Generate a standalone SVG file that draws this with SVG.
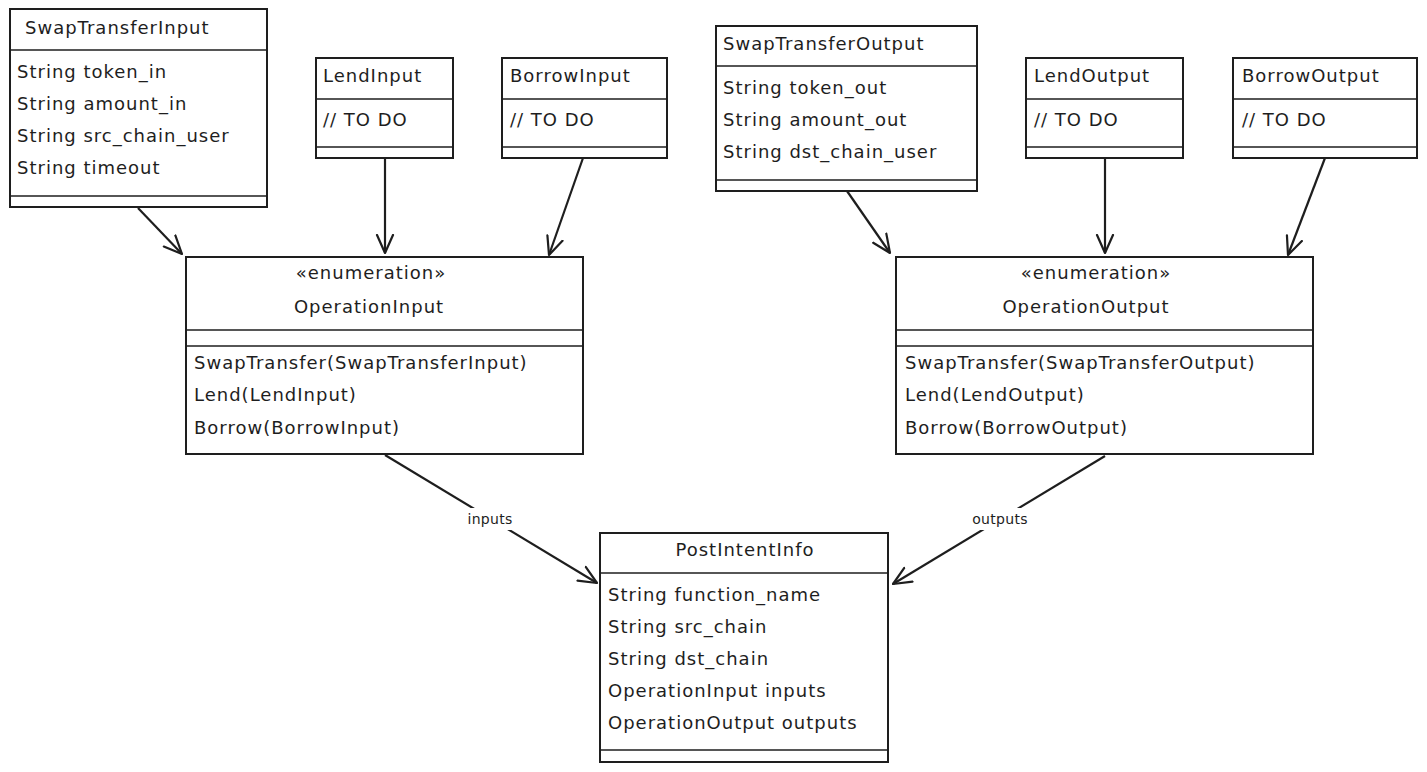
<svg xmlns="http://www.w3.org/2000/svg" width="1427" height="772" viewBox="0 0 1427 772">
<style>
.box{fill:#ffffff;stroke:#1e1e1e;stroke-width:2}
.sep{stroke:#1e1e1e;stroke-width:1.5;fill:none}
.t{font-family:"DejaVu Sans",sans-serif;font-size:18px;letter-spacing:1px;fill:#1e1e1e}
.c{text-anchor:middle}
.lbl{font-family:"DejaVu Sans",sans-serif;font-size:14px;letter-spacing:0.3px;fill:#1e1e1e;text-anchor:middle}
.edge{stroke:#1e1e1e;stroke-width:2.2;fill:none;marker-end:url(#arr)}
</style>
<defs>
<marker id="arr" viewBox="0 0 20 20" refX="19" refY="10" markerWidth="20" markerHeight="20" markerUnits="userSpaceOnUse" orient="auto">
<path d="M1,2 L19,10 L1,18" fill="none" stroke="#1e1e1e" stroke-width="2.2" stroke-linecap="round" stroke-linejoin="round"/>
</marker>
</defs>
<rect width="1427" height="772" fill="#ffffff"/>

<g id="connectors">
<path class="edge" d="M138,208 L182,254"/>
<path class="edge" d="M385,158 L385,253"/>
<path class="edge" d="M583,158 L549,255"/>
<path class="edge" d="M847,191 L890,253"/>
<path class="edge" d="M1105,158 L1105,253"/>
<path class="edge" d="M1325,158 L1288,255"/>
<path class="edge" d="M385,455 L597,583"/>
<path class="edge" d="M1105,456 L893,584"/>
<rect x="462" y="508" width="56" height="22" fill="#ffffff"/>
<text class="lbl" x="490" y="524">inputs</text>
<rect x="964" y="508" width="72" height="22" fill="#ffffff"/>
<text class="lbl" x="1000" y="524">outputs</text>
</g>

<g id="SwapTransferInput">
<rect class="box" x="10" y="9" width="257" height="198"/>
<line class="sep" x1="10" y1="50" x2="267" y2="50"/>
<line class="sep" x1="10" y1="196" x2="267" y2="196"/>
<text class="t" x="25" y="34">SwapTransferInput</text>
<text class="t" x="17" y="78">String token_in</text>
<text class="t" x="17" y="110">String amount_in</text>
<text class="t" x="17" y="142">String src_chain_user</text>
<text class="t" x="17" y="174">String timeout</text>
</g>

<g id="LendInput">
<rect class="box" x="316" y="58" width="137" height="100"/>
<line class="sep" x1="316" y1="99" x2="453" y2="99"/>
<line class="sep" x1="316" y1="147" x2="453" y2="147"/>
<text class="t" x="323" y="82">LendInput</text>
<text class="t" x="323" y="126">// TO DO</text>
</g>

<g id="BorrowInput">
<rect class="box" x="502" y="58" width="165" height="100"/>
<line class="sep" x1="502" y1="99" x2="667" y2="99"/>
<line class="sep" x1="502" y1="147" x2="667" y2="147"/>
<text class="t" x="510" y="82">BorrowInput</text>
<text class="t" x="510" y="126">// TO DO</text>
</g>

<g id="SwapTransferOutput">
<rect class="box" x="716" y="26" width="261" height="165"/>
<line class="sep" x1="716" y1="66" x2="977" y2="66"/>
<line class="sep" x1="716" y1="180" x2="977" y2="180"/>
<text class="t" x="723" y="50">SwapTransferOutput</text>
<text class="t" x="723" y="94">String token_out</text>
<text class="t" x="723" y="126">String amount_out</text>
<text class="t" x="723" y="158">String dst_chain_user</text>
</g>

<g id="LendOutput">
<rect class="box" x="1026" y="58" width="157" height="100"/>
<line class="sep" x1="1026" y1="99" x2="1183" y2="99"/>
<line class="sep" x1="1026" y1="147" x2="1183" y2="147"/>
<text class="t" x="1034" y="82">LendOutput</text>
<text class="t" x="1034" y="126">// TO DO</text>
</g>

<g id="BorrowOutput">
<rect class="box" x="1233" y="58" width="184" height="100"/>
<line class="sep" x1="1233" y1="99" x2="1417" y2="99"/>
<line class="sep" x1="1233" y1="147" x2="1417" y2="147"/>
<text class="t" x="1242" y="82">BorrowOutput</text>
<text class="t" x="1242" y="126">// TO DO</text>
</g>

<g id="OperationInput">
<rect class="box" x="186" y="257" width="397" height="197"/>
<line class="sep" x1="186" y1="330" x2="583" y2="330"/>
<line class="sep" x1="186" y1="346" x2="583" y2="346"/>
<text class="t c" x="371" y="279">«enumeration»</text>
<text class="t c" x="369" y="313">OperationInput</text>
<text class="t" x="194" y="369">SwapTransfer(SwapTransferInput)</text>
<text class="t" x="194" y="401">Lend(LendInput)</text>
<text class="t" x="194" y="434">Borrow(BorrowInput)</text>
</g>

<g id="OperationOutput">
<rect class="box" x="896" y="257" width="417" height="197"/>
<line class="sep" x1="896" y1="330" x2="1313" y2="330"/>
<line class="sep" x1="896" y1="346" x2="1313" y2="346"/>
<text class="t c" x="1096" y="279">«enumeration»</text>
<text class="t c" x="1086" y="313">OperationOutput</text>
<text class="t" x="905" y="369">SwapTransfer(SwapTransferOutput)</text>
<text class="t" x="905" y="401">Lend(LendOutput)</text>
<text class="t" x="905" y="434">Borrow(BorrowOutput)</text>
</g>

<g id="PostIntentInfo">
<rect class="box" x="600" y="533" width="288" height="229"/>
<line class="sep" x1="600" y1="573" x2="888" y2="573"/>
<line class="sep" x1="600" y1="750" x2="888" y2="750"/>
<text class="t c" x="745" y="556">PostIntentInfo</text>
<text class="t" x="608" y="601">String function_name</text>
<text class="t" x="608" y="633">String src_chain</text>
<text class="t" x="608" y="665">String dst_chain</text>
<text class="t" x="608" y="697">OperationInput inputs</text>
<text class="t" x="608" y="729">OperationOutput outputs</text>
</g>
</svg>
